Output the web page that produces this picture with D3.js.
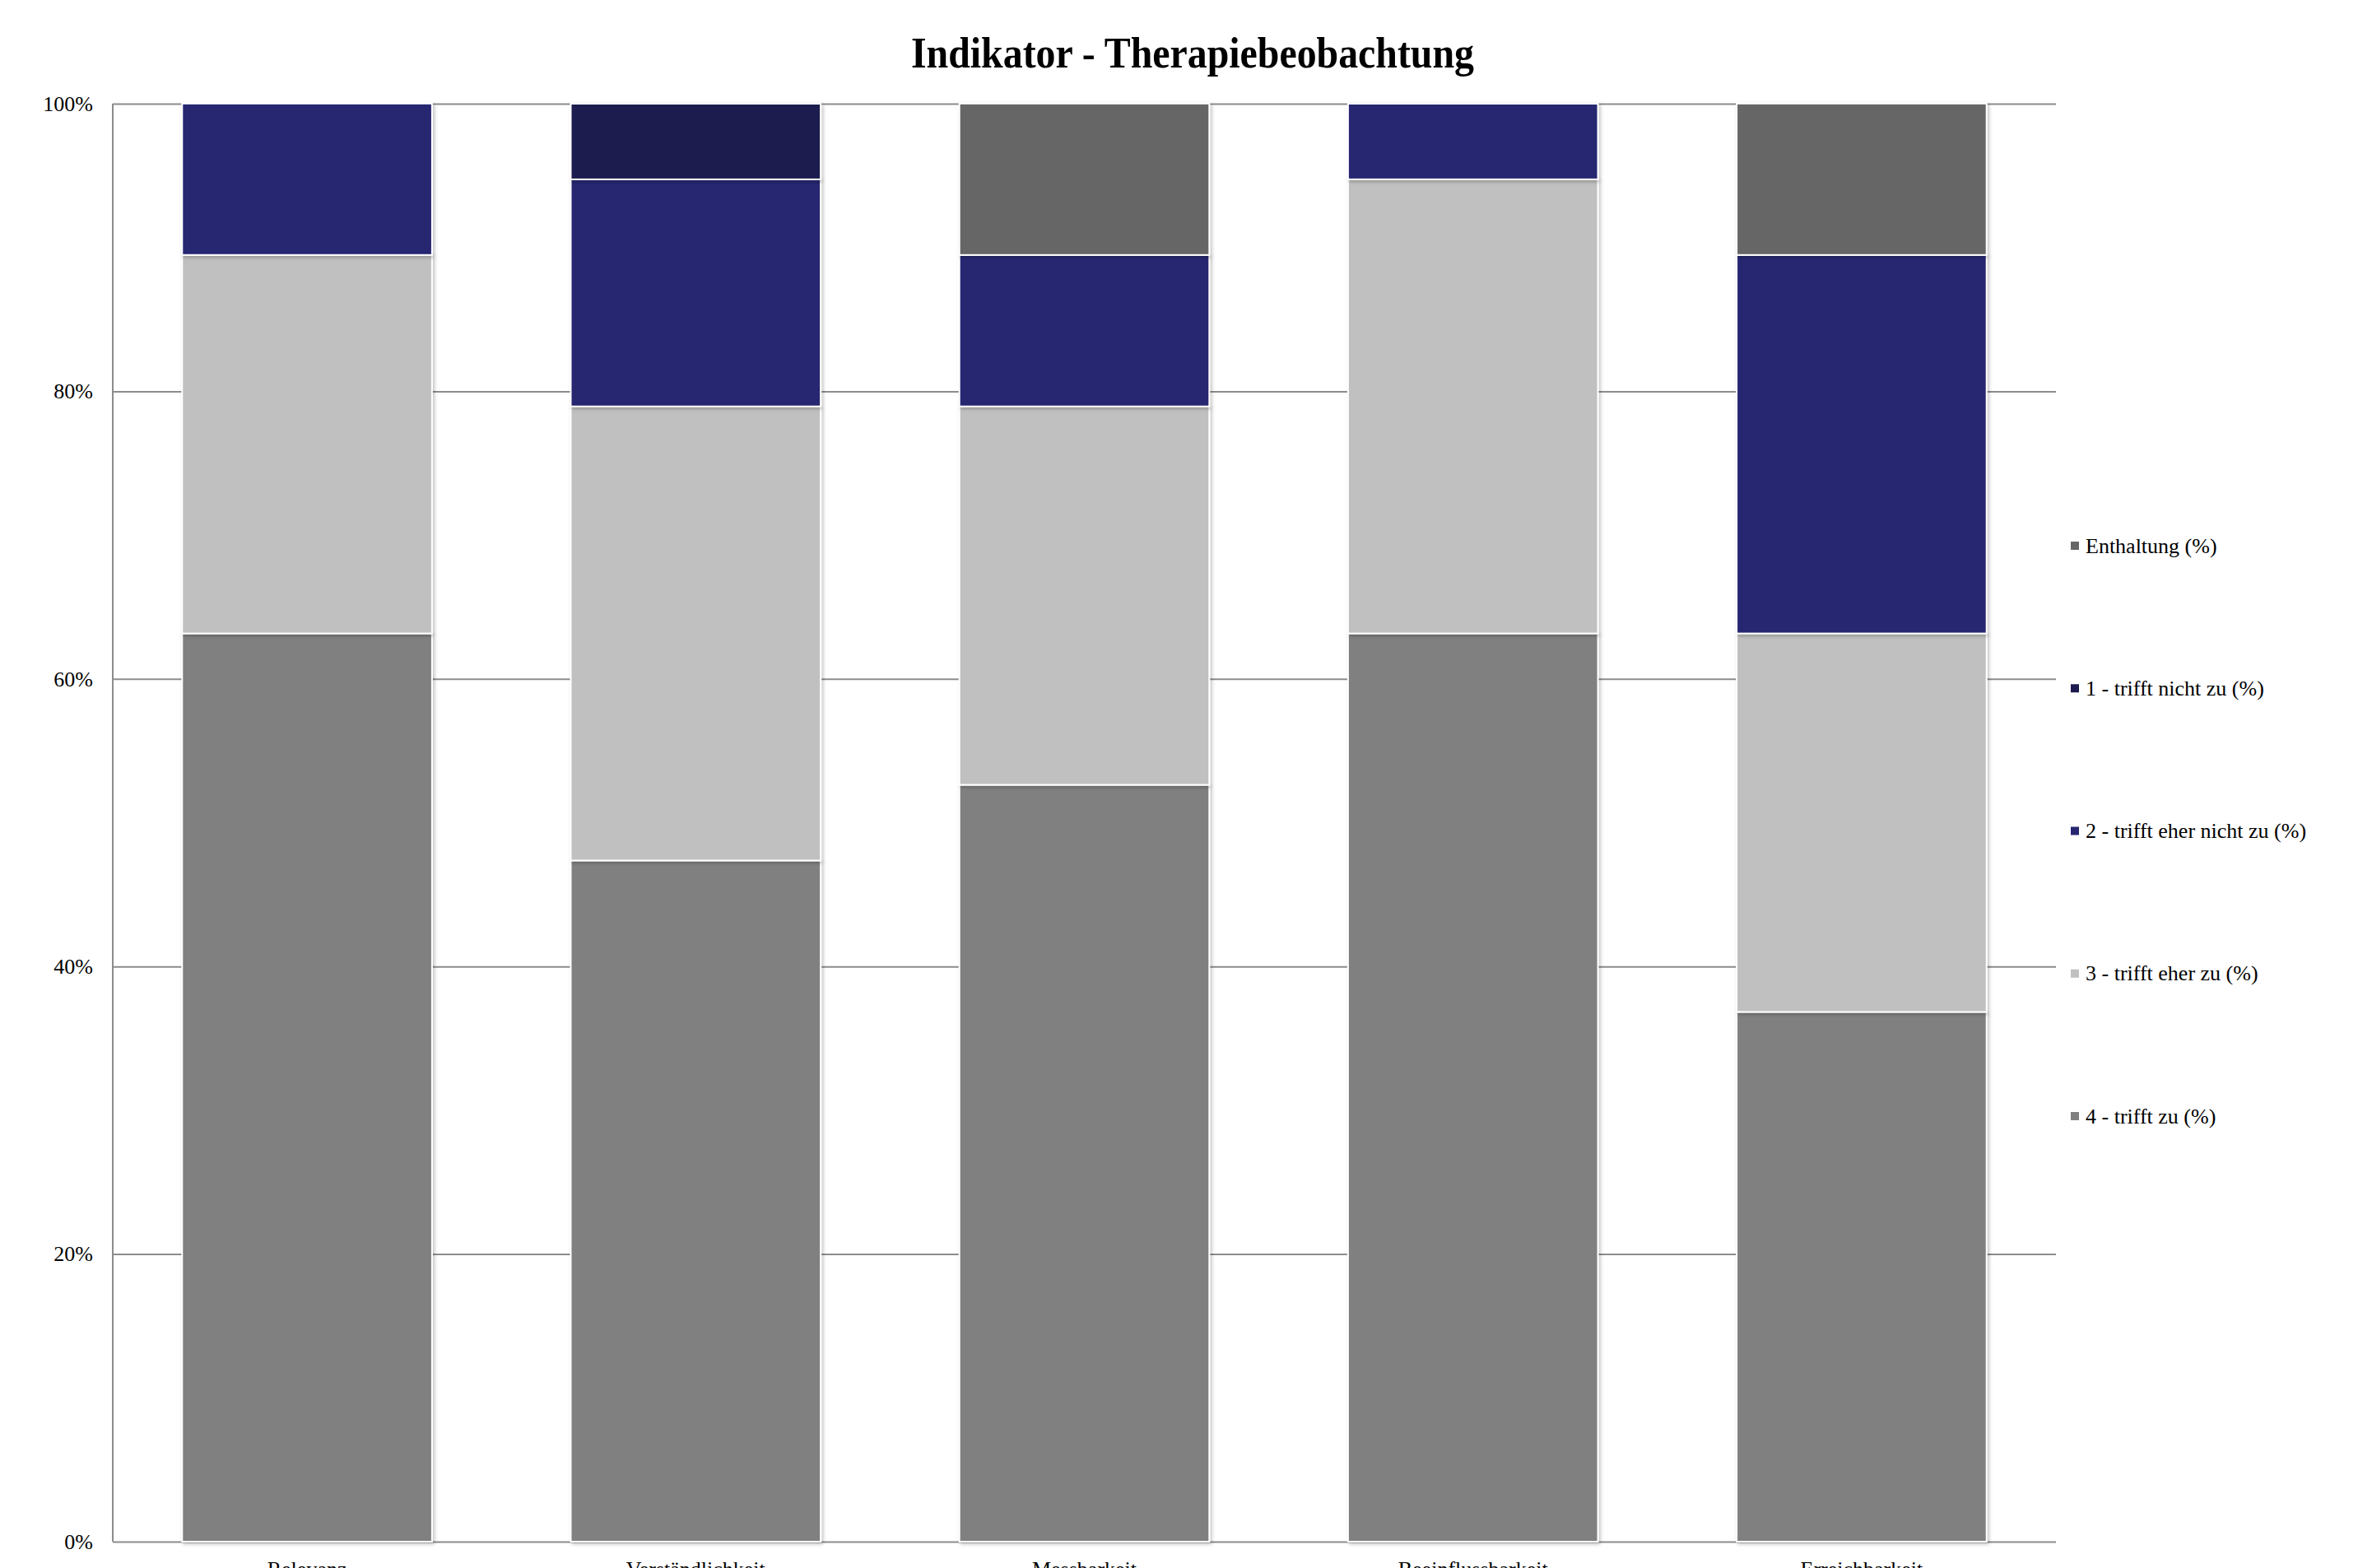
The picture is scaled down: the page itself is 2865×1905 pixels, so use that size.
<!DOCTYPE html>
<html>
<head>
<meta charset="utf-8">
<script src="https://cdn.jsdelivr.net/npm/d3@7/dist/d3.min.js"></script>
<style>
  html, body { margin: 0; padding: 0; background: #fff; overflow: hidden; }
  svg { display: block; }
</style>
</head>
<body>
<script>
// ---- data ----
const categories = ["Relevanz", "Verständlichkeit", "Messbarkeit", "Beeinflussbarkeit", "Erreichbarkeit"];
const seriesNames = ["4 - trifft zu (%)", "3 - trifft eher zu (%)", "2 - trifft eher nicht zu (%)", "1 - trifft nicht zu (%)", "Enthaltung (%)"];
const trifftZu        = [63.16, 47.37, 52.63, 63.16, 36.84];
const trifftEherZu    = [26.32, 31.58, 26.32, 31.58, 26.32];
const trifftEherNicht = [10.53, 15.79, 10.53, 5.26, 26.32];
const trifftNicht     = [0, 5.26, 0, 0, 0];
const enthaltung      = [0, 0, 10.53, 0, 10.53];
const yTicks = [0, 20, 40, 60, 80, 100];
const title = "Indikator - Therapiebeobachtung";

const seriesValues = [trifftZu, trifftEherZu, trifftEherNicht, trifftNicht, enthaltung];
const colors = ["#808080", "#c0c0c0", "#262671", "#1b1b4f", "#666666"];

// ---- layout ----
const W = 2865, H = 1905;
const m = { left: 137, right: W - 2498, top: 126, bottom: H - 1873 };

const svg = d3.select("body").append("svg").attr("width", W).attr("height", H);

const defs = svg.append("defs");
const f = defs.append("filter").attr("id", "shadow").attr("x", "-10%").attr("y", "-10%").attr("width", "120%").attr("height", "120%");
f.append("feDropShadow").attr("dx", 2).attr("dy", 2).attr("stdDeviation", 2).attr("flood-color", "#000").attr("flood-opacity", 0.25);

const x = d3.scaleBand().domain(categories).range([m.left, W - m.right]).paddingInner(0.357).paddingOuter(0.1785);
const y = d3.scaleLinear().domain([0, 100]).range([H - m.bottom, m.top]);

// table for stacking
const table = categories.map((c, i) => {
  const row = { cat: c };
  seriesNames.forEach((s, j) => row[s] = seriesValues[j][i]);
  return row;
});
const stack = d3.stack().keys(seriesNames)(table);

// gridlines
const grid = svg.append("g")
  .attr("transform", `translate(${m.left},0)`)
  .call(d3.axisLeft(y).tickValues(yTicks).tickSize(-(W - m.left - m.right)).tickFormat(""));
grid.select(".domain").remove();
grid.selectAll(".tick line").attr("stroke", "#8c8c8c").attr("stroke-width", 2);

// left axis line
svg.append("line").attr("x1", m.left).attr("x2", m.left).attr("y1", y(100)).attr("y2", y(0))
  .attr("stroke", "#8c8c8c").attr("stroke-width", 2);

// y tick labels
const yAx = svg.append("g")
  .attr("transform", `translate(${m.left},0)`)
  .call(d3.axisLeft(y).tickValues(yTicks).tickSize(0).tickPadding(24).tickFormat(d => d + "%"));
yAx.select(".domain").remove();
yAx.selectAll("text").attr("font-family", "Liberation Serif, Times New Roman, serif")
  .attr("font-size", 26).attr("fill", "#000");

// bars
const bars = svg.append("g");
stack.forEach((layer, j) => {
  bars.append("g").attr("fill", colors[j])
    .selectAll("rect").data(layer.filter(d => d[1] - d[0] > 0)).enter().append("rect")
    .attr("x", d => x(d.data.cat))
    .attr("width", x.bandwidth())
    .attr("y", d => y(d[1]))
    .attr("height", d => y(d[0]) - y(d[1]))
    .attr("stroke", "#ffffff")
    .attr("stroke-width", 2)
    .attr("filter", "url(#shadow)");
});

// bottom axis line
svg.append("line").attr("x1", m.left).attr("x2", W - m.right).attr("y1", y(0)).attr("y2", y(0))
  .attr("stroke", "#8c8c8c").attr("stroke-width", 3).attr("filter", "url(#shadow)");

// x labels
const xAx = svg.append("g")
  .attr("transform", `translate(0,${y(0)})`)
  .call(d3.axisBottom(x).tickSize(0).tickPadding(24));
xAx.select(".domain").remove();
xAx.selectAll("text").attr("font-family", "Liberation Serif, Times New Roman, serif")
  .attr("font-size", 26).attr("fill", "#000");

// title
svg.append("text").attr("x", 1449).attr("y", 82).attr("text-anchor", "middle")
  .attr("font-family", "Liberation Serif, Times New Roman, serif").attr("font-weight", "bold")
  .attr("font-size", 52).attr("textLength", 684).attr("lengthAdjust", "spacingAndGlyphs")
  .text(title);

// legend (top-down: reverse order)
const legendOrder = seriesNames.map((s, j) => ({ s, c: colors[j] })).reverse();
const legendY = d3.scalePoint().domain(legendOrder.map(d => d.s)).range([663, 1356]);
const lg = svg.append("g");
legendOrder.forEach(d => {
  const yy = legendY(d.s);
  lg.append("rect").attr("x", 2516).attr("y", yy - 5).attr("width", 10).attr("height", 10).attr("fill", d.c);
  lg.append("text").attr("x", 2534).attr("y", yy).attr("dominant-baseline", "central")
    .attr("font-family", "Liberation Serif, Times New Roman, serif").attr("font-size", 26).attr("fill", "#000")
    .text(d.s);
});
</script>
</body>
</html>
